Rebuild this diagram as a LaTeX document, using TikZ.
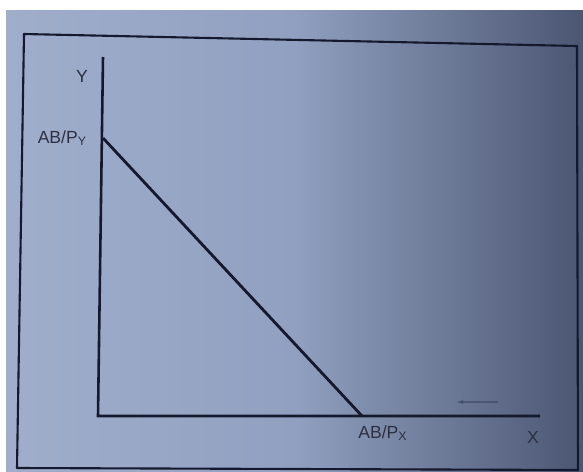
\documentclass[tikz,border=0pt]{standalone}
\usepackage{fontspec}
\setmainfont{Liberation Sans}
\usepackage{tikz}
\usetikzlibrary{arrows.meta,positioning,calc}
\definecolor{bgLight}{RGB}{160,174,204}
\definecolor{bgMid}{RGB}{145,160,192}
\definecolor{bgDark}{RGB}{75,86,114}
\definecolor{ink}{RGB}{20,25,45}
\definecolor{inkFaint}{RGB}{60,70,100}
\tikzset{
    frameLine/.style={draw=ink, line width=1.8pt, line join=round},
    axisLine/.style={draw=ink, line width=2.2pt},
    budget/.style={draw=ink, line width=2.4pt},
    axisLabel/.style={font=\fontsize{15}{17}\selectfont, text=ink!90, inner sep=1pt},
    faintMark/.style={draw=inkFaint, line width=1.2pt, -{Latex[length=6pt,width=4pt]}, opacity=0.6}
}
\begin{document}
\begin{tikzpicture}[x=0.03cm, y=-0.03cm]
\useasboundingbox (0,0) rectangle (583,471);
% photo background
\fill[white] (0,0) rectangle (583,471);
\shade[left color=bgLight, right color=bgDark, middle color=bgMid] (6,10) rectangle (583,471);

% frame
\draw[frameLine] (24,34) -- (577,46) -- (578,470) -- (17,468) -- cycle;

% axes
\coordinate (O) at (98,416);
\coordinate (ytop) at (103,57);
\coordinate (xend) at (540,416);
\draw[axisLine] (ytop) -- (O) -- (xend);

% budget line
\coordinate (A) at (103,138);
\coordinate (B) at (362,416);
\draw[budget] (A) -- (B);

% labels
\node[axisLabel] (ylab) at (82,76) {Y};
\node[axisLabel, anchor=east] (ay) at (88,138) {AB/P\textsubscript{Y}};
\node[axisLabel, anchor=north west] (bx) at (357,424) {AB/P\textsubscript{X}};
\node[axisLabel] (xlab) at (533,437) {X};

% small mark
\coordinate (m1) at (498,402);
\coordinate (m2) at (456,402);
\draw[faintMark] (m1) -- (m2);
\end{tikzpicture}
\end{document}
